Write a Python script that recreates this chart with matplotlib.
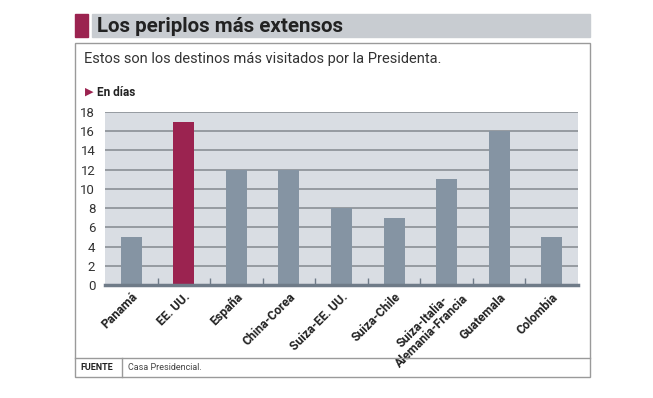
import matplotlib.pyplot as plt
from matplotlib.patches import Rectangle
from matplotlib.lines import Line2D
from matplotlib.transforms import ScaledTranslation
import numpy as np

plt.rcParams['font.family'] = ['Roboto', 'DejaVu Sans']

destinos = ['Panamá', 'EE. UU.', 'España', 'China-Corea', 'Suiza-EE. UU.',
            'Suiza-Chile', 'Suiza-Italia-\nAlemania-Francia', 'Guatemala', 'Colombia']
dias = [5, 17, 12, 12, 8, 7, 11, 16, 5]
destacado = 'EE. UU.'

W, H = 653, 398
fig = plt.figure(figsize=(W / 100, H / 100), dpi=100)

def fx(px):
    return px / W

def fy(py):
    return 1 - py / H

# barra del titulo
fig.patches.append(Rectangle((fx(75), fy(37)), fx(13), (37 - 14) / H,
                             transform=fig.transFigure, color='#9b2350'))
fig.patches.append(Rectangle((fx(92), fy(37)), fx(498), (37 - 14) / H,
                             transform=fig.transFigure, color='#c8ccd1'))
fig.text(fx(97), fy(26), 'Los periplos más extensos', fontsize=14.8,
         fontweight='bold', color='#222222', va='center')

# recuadro
fig.patches.append(Rectangle((fx(75), fy(377)), fx(515), (377 - 43) / H,
                             transform=fig.transFigure, fill=False,
                             edgecolor='#9a9a9a', linewidth=1))
fig.lines.append(Line2D([fx(75), fx(590)], [fy(358), fy(358)],
                        transform=fig.transFigure, color='#9a9a9a', linewidth=1))
fig.lines.append(Line2D([fx(122), fx(122)], [fy(358), fy(377)],
                        transform=fig.transFigure, color='#9a9a9a', linewidth=1))

fig.text(fx(84), fy(59), 'Estos son los destinos más visitados por la Presidenta.',
         fontsize=10.5, color='#333333', va='center')
fig.text(fx(85), fy(92), '▶', fontsize=8, color='#9b2350', va='center',
         family=['DejaVu Sans'])
fig.text(fx(97), fy(92), 'En días', fontsize=8.5, fontweight='bold',
         color='#222222', va='center')
fig.text(fx(80), fy(368), 'FUENTE', fontsize=6.5, fontweight='bold',
         color='#222222', va='center')
fig.text(fx(128), fy(368), 'Casa Presidencial.', fontsize=6.5,
         color='#444444', va='center')

# grafico
ax = fig.add_axes([fx(105), fy(285), fx(473), (285 - 112) / H])
ax.set_facecolor('#d9dde3')
x = np.arange(len(destinos))
colores = ['#9b2350' if d == destacado else '#8594a3' for d in destinos]
ax.bar(x, dias, width=0.4, color=colores, zorder=3)

ax.set_xlim(-0.5, len(destinos) - 0.5)
ax.set_ylim(0, 18)
ax.set_yticks(range(0, 19, 2))
ax.yaxis.grid(True, color='#8a8f96', linewidth=1.2, zorder=1)
ax.tick_params(axis='y', length=0, labelsize=9.5, colors='#333333', pad=7)

ax.set_xticks(x)
etiquetas = ax.set_xticklabels(destinos, rotation=45, ha='right',
                               rotation_mode='anchor', fontsize=8.8,
                               fontweight='bold', color='#222222',
                               linespacing=1.0, multialignment='center')
ax.tick_params(axis='x', length=0, pad=4)
# la etiqueta de dos lineas va un poco mas arriba, como en el original
for t in etiquetas:
    if '\n' in t.get_text():
        t.set_transform(t.get_transform() +
                        ScaledTranslation(6 / 100, 8 / 100, fig.dpi_scale_trans))
ax.set_xticks(np.arange(0.5, len(destinos) - 0.5, 1), minor=True)
ax.tick_params(axis='x', which='minor', direction='in', length=5,
               color='#6f7b88', width=1)

for s in ['top', 'left', 'right']:
    ax.spines[s].set_visible(False)
ax.spines['bottom'].set_color('#6f7b88')
ax.spines['bottom'].set_linewidth(2.5)
ax.spines['bottom'].set_zorder(4)

fig.savefig('out.png', dpi=100)
